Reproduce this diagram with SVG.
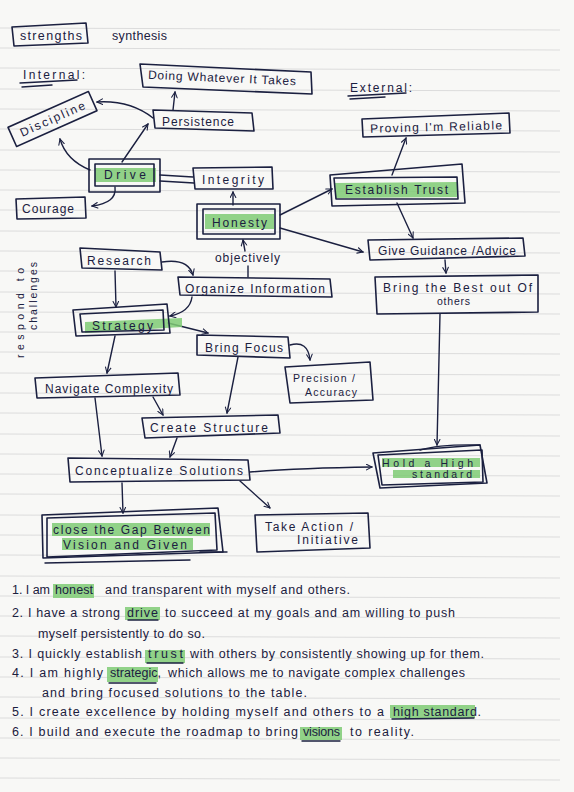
<svg xmlns="http://www.w3.org/2000/svg" width="574" height="792" viewBox="0 0 574 792">
<defs>
<style>
.bg{fill:#f8f8f6}
.rule{stroke:#dcdcdc;stroke-width:1}
.box{fill:none;stroke:#1b2040;stroke-width:1.6;stroke-linejoin:round}
.ln{fill:none;stroke:#1b2040;stroke-width:1.4;stroke-linecap:round}
.arr{fill:none;stroke:#1b2040;stroke-width:1.4;stroke-linecap:round;marker-end:url(#ah)}
.hl{fill:#7fcb74;opacity:0.85}
text{font-family:"Liberation Sans","DejaVu Sans",sans-serif;fill:#1b2040}
.t{font-size:12px}
.s{font-size:10.5px}
.b{font-size:12.5px}
</style>
<marker id="ah" viewBox="0 0 10 10" refX="9" refY="5" markerWidth="7" markerHeight="7" orient="auto" markerUnits="userSpaceOnUse">
<path d="M1,1 L9,5 L1,9" fill="none" stroke="#1b2040" stroke-width="1.5" stroke-linecap="round"/>
</marker>
</defs>
<rect class="bg" x="0" y="0" width="574" height="792"/>
<g id="rules">
<line class="rule" x1="0" y1="28" x2="560" y2="30"/><line class="rule" x1="0" y1="48" x2="560" y2="50"/><line class="rule" x1="0" y1="68" x2="560" y2="70"/><line class="rule" x1="0" y1="89" x2="560" y2="91"/><line class="rule" x1="0" y1="109" x2="560" y2="111"/><line class="rule" x1="0" y1="129" x2="560" y2="131"/><line class="rule" x1="0" y1="150" x2="560" y2="152"/><line class="rule" x1="0" y1="170" x2="560" y2="172"/><line class="rule" x1="0" y1="190" x2="560" y2="192"/><line class="rule" x1="0" y1="210" x2="560" y2="212"/><line class="rule" x1="0" y1="231" x2="560" y2="233"/><line class="rule" x1="0" y1="251" x2="560" y2="253"/><line class="rule" x1="0" y1="271" x2="560" y2="273"/><line class="rule" x1="0" y1="292" x2="560" y2="294"/><line class="rule" x1="0" y1="312" x2="560" y2="314"/><line class="rule" x1="0" y1="332" x2="560" y2="334"/><line class="rule" x1="0" y1="352" x2="560" y2="354"/><line class="rule" x1="0" y1="373" x2="560" y2="375"/><line class="rule" x1="0" y1="393" x2="560" y2="395"/><line class="rule" x1="0" y1="413" x2="560" y2="415"/><line class="rule" x1="0" y1="434" x2="560" y2="436"/><line class="rule" x1="0" y1="454" x2="560" y2="456"/><line class="rule" x1="0" y1="474" x2="560" y2="476"/><line class="rule" x1="0" y1="494" x2="560" y2="496"/><line class="rule" x1="0" y1="515" x2="560" y2="517"/><line class="rule" x1="0" y1="535" x2="560" y2="537"/><line class="rule" x1="0" y1="555" x2="560" y2="557"/><line class="rule" x1="0" y1="576" x2="560" y2="578"/><line class="rule" x1="0" y1="596" x2="560" y2="598"/><line class="rule" x1="0" y1="616" x2="560" y2="618"/><line class="rule" x1="0" y1="636" x2="560" y2="638"/><line class="rule" x1="0" y1="657" x2="560" y2="659"/><line class="rule" x1="0" y1="677" x2="560" y2="679"/><line class="rule" x1="0" y1="697" x2="560" y2="699"/><line class="rule" x1="0" y1="718" x2="560" y2="720"/><line class="rule" x1="0" y1="738" x2="560" y2="740"/><line class="rule" x1="0" y1="758" x2="560" y2="760"/><line class="rule" x1="0" y1="778" x2="560" y2="780"/>
</g>
<g id="headers">
<polygon class="box" points="12,27 86,23 88,43 14,46"/>
<text class="b" x="20" y="40" textLength="62" lengthAdjust="spacing">strengths</text>
<text class="b" x="112" y="40" textLength="55" lengthAdjust="spacing">synthesis</text>
<text class="t" x="23" y="79" textLength="62" lengthAdjust="spacing">Internal:</text>
<path class="ln" d="M20,83 L77,80 M22,87 L52,85"/>
<text class="t" x="350" y="92" textLength="62" lengthAdjust="spacing">External:</text>
<path class="ln" d="M348,96 L406,93 M350,99 L385,97"/>
<g transform="rotate(-90 24 358)"><text class="s" x="24" y="358" textLength="90" lengthAdjust="spacing">respond to</text></g>
<g transform="rotate(-90 37 330)"><text class="s" x="37" y="330" textLength="68" lengthAdjust="spacing">challenges</text></g>
</g>
<g id="connectors">
<path class="arr" d="M173,110 L175,92"/>
<path class="arr" d="M153,118 Q130,100 97,102"/>
<path class="arr" d="M122,162 L148,124"/>
<path class="arr" d="M90,170 Q66,160 60,139"/>
<path class="arr" d="M115,187 Q117,203 92,206"/>
<path class="ln" d="M160,175 L193,177 M160,181 L194,183"/>
<path class="arr" d="M233,205 L233,192"/>
<path class="arr" d="M245,251 L243,240"/>
<path class="ln" d="M248,266 L248,277"/>
<path class="arr" d="M280,215 L332,189"/>
<path class="arr" d="M280,228 L363,252"/>
<path class="arr" d="M392,175 L406,138"/>
<path class="arr" d="M397,203 L413,238"/>
<path class="arr" d="M445,260 L446,273"/>
<path class="arr" d="M440,314 L437,445"/>
<path class="arr" d="M162,262 Q188,258 193,275"/>
<path class="arr" d="M115,271 L116,307"/>
<path class="arr" d="M192,297 Q190,312 170,316"/>
<path class="arr" d="M168,323 L208,333"/>
<path class="arr" d="M290,345 Q308,340 310,360"/>
<path class="arr" d="M115,336 L107,373"/>
<path class="arr" d="M238,357 L227,413"/>
<path class="arr" d="M153,397 L163,415"/>
<path class="arr" d="M95,398 L102,456"/>
<path class="arr" d="M177,438 L170,457"/>
<path class="arr" d="M250,472 Q300,468 372,467"/>
<path class="arr" d="M122,483 L123,513"/>
<path class="arr" d="M240,481 L270,508"/>
</g>
<g id="n-doing">
<polygon class="box" points="140,64 311,72 312,94 143,87"/>
<text class="t" x="148" y="82" textLength="148" lengthAdjust="spacing" transform="rotate(2.5 222 78)">Doing Whatever It Takes</text>
</g>
<g id="n-discipline" transform="rotate(-24 52.5 119)">
<rect class="box" x="8.5" y="108.5" width="88" height="21"/>
<text class="t" x="52.5" y="123" text-anchor="middle" textLength="70" lengthAdjust="spacing">Discipline</text>
</g>
<g id="n-persistence">
<polygon class="box" points="153,110 252,113 254,131 155,128"/>
<text class="t" x="162" y="126" textLength="72" lengthAdjust="spacing">Persistence</text>
</g>
<g id="n-drive">
<rect class="box" x="89" y="159" width="71" height="33"/>
<rect class="hl" x="95" y="168" width="61" height="14"/>
<rect class="box" x="95" y="164" width="59" height="22"/>
<text class="t" x="104" y="179" textLength="42" lengthAdjust="spacing">Drive</text>
</g>
<g id="n-integrity">
<polygon class="box" points="193,168 272,167 273,189 195,189"/>
<text class="t" x="202" y="184" textLength="62" lengthAdjust="spacing">Integrity</text>
</g>
<g id="n-courage">
<polygon class="box" points="16,199 85,197 86,218 17,219"/>
<text class="t" x="22" y="213" textLength="52" lengthAdjust="spacing">Courage</text>
</g>
<g id="n-honesty">
<rect class="box" x="197" y="204" width="83" height="35"/>
<rect class="hl" x="205" y="214" width="69" height="15"/>
<rect class="box" x="203" y="209" width="72" height="25"/>
<text class="t" x="212" y="227" textLength="55" lengthAdjust="spacing">Honesty</text>
<text class="t" x="215" y="262" textLength="65" lengthAdjust="spacing">objectively</text>
</g>
<g id="n-proving">
<polygon class="box" points="362,119 509,113 510,133 363,137"/>
<text class="t" x="370" y="131" textLength="132" lengthAdjust="spacing" transform="rotate(-1.5 436 127)">Proving I'm Reliable</text>
</g>
<g id="n-trust">
<polygon class="hl" points="335,183 457,182 457,197 336,198"/>
<polygon class="box" points="330,175 462,164 465,203 332,206"/>
<polygon class="box" points="334,178 457,177 458,199 336,199"/>
<text class="t" x="345" y="194" textLength="103" lengthAdjust="spacing">Establish Trust</text>
</g>
<g id="n-guidance">
<polygon class="box" points="368,240 523,238 525,256 370,260"/>
<text class="t" x="378" y="255" textLength="138" lengthAdjust="spacing">Give Guidance /Advice</text>
</g>
<g id="n-best">
<polygon class="box" points="375,277 538,275 538,312 377,314"/>
<text class="t" x="383" y="292" textLength="149" lengthAdjust="spacing">Bring the Best out Of</text>
<text class="s" x="437" y="305" textLength="33" lengthAdjust="spacing">others</text>
</g>
<g id="n-research">
<polygon class="box" points="80,248 160,252 162,270 82,268"/>
<text class="t" x="87" y="265" textLength="64" lengthAdjust="spacing">Research</text>
</g>
<g id="n-organize">
<polygon class="box" points="178,277 330,279 332,297 180,295"/>
<text class="t" x="185" y="293" textLength="140" lengthAdjust="spacing">Organize Information</text>
</g>
<g id="n-strategy">
<polygon class="hl" points="85,322 182,318 182,327 85,333"/>
<polygon class="box" points="73,310 167,304 170,333 76,336"/>
<polygon class="box" points="80,314 163,310 164,330 82,332"/>
<text class="t" x="92" y="330" textLength="61" lengthAdjust="spacing">Strategy</text>
</g>
<g id="n-focus">
<polygon class="box" points="197,335 288,337 290,358 197,355"/>
<text class="t" x="205" y="352" textLength="78" lengthAdjust="spacing">Bring Focus</text>
</g>
<g id="n-precision">
<polygon class="box" points="285,367 370,362 373,400 290,403"/>
<text class="s" x="293" y="382" textLength="62" lengthAdjust="spacing">Precision /</text>
<text class="s" x="305" y="396" textLength="52" lengthAdjust="spacing">Accuracy</text>
</g>
<g id="n-navigate">
<polygon class="box" points="35,378 178,373 180,395 37,398"/>
<text class="t" x="45" y="393" textLength="128" lengthAdjust="spacing">Navigate Complexity</text>
</g>
<g id="n-structure">
<polygon class="box" points="142,418 278,415 280,433 145,438"/>
<text class="t" x="150" y="432" textLength="118" lengthAdjust="spacing">Create Structure</text>
</g>
<g id="n-conceptualize">
<polygon class="box" points="68,458 248,460 250,480 70,482"/>
<text class="t" x="75" y="475" textLength="168" lengthAdjust="spacing">Conceptualize Solutions</text>
</g>
<g id="n-hold">
<rect class="hl" x="382" y="458" width="98" height="9"/>
<rect class="hl" x="393" y="470" width="87" height="8"/>
<polygon class="box" points="373,453 480,445 487,483 380,488"/>
<polygon class="box" points="378,455 482,450 483,482 382,485"/>
<path class="ln" d="M420,450 Q440,444 480,445"/>
<text class="s" x="382" y="467" textLength="91" lengthAdjust="spacing">Hold a High</text>
<text class="s" x="412" y="478" textLength="60" lengthAdjust="spacing">standard</text>
</g>
<g id="n-close">
<rect class="hl" x="52" y="523" width="158" height="13"/>
<rect class="hl" x="62" y="538" width="131" height="12"/>
<polygon class="box" points="42,515 218,508 223,552 43,558"/>
<polygon class="box" points="47,518 215,513 217,550 47,557"/>
<path class="ln" d="M45,563 L190,560 M200,552 L227,552"/>
<text class="t" x="53" y="534" textLength="157" lengthAdjust="spacing">close the Gap Between</text>
<text class="t" x="63" y="549" textLength="124" lengthAdjust="spacing">Vision and Given</text>
</g>
<g id="n-action">
<polygon class="box" points="255,515 368,513 370,548 257,552"/>
<text class="t" x="265" y="531" textLength="88" lengthAdjust="spacing">Take Action /</text>
<text class="t" x="297" y="544" textLength="61" lengthAdjust="spacing">Initiative</text>
</g>
<g id="summary">
<rect class="hl" x="53" y="584" width="41" height="14"/>
<rect class="hl" x="125" y="607" width="35" height="13"/>
<rect class="hl" x="145" y="650" width="40" height="13"/>
<rect class="hl" x="107" y="667" width="51" height="15"/>
<rect class="hl" x="390" y="705" width="85" height="13"/>
<rect class="hl" x="300" y="727" width="42" height="13"/>
<path class="ln" d="M128,620 L158,620 M147,663 L183,663 M109,683 L156,683 M392,719 L474,718 M302,741 L340,741"/>
<text class="b" x="12" y="594" textLength="38" lengthAdjust="spacing">1. I am</text>
<text class="b" x="55" y="594" textLength="38" lengthAdjust="spacing">honest</text>
<text class="b" x="105" y="594" textLength="245" lengthAdjust="spacing">and transparent with myself and others.</text>
<text class="b" x="12" y="617" textLength="108" lengthAdjust="spacing">2. I have a strong</text>
<text class="b" x="127" y="617" textLength="31" lengthAdjust="spacing">drive</text>
<text class="b" x="165" y="617" textLength="290" lengthAdjust="spacing">to succeed at my goals and am willing to push</text>
<text class="b" x="38" y="638" textLength="167" lengthAdjust="spacing">myself persistently to do so.</text>
<text class="b" x="12" y="658" textLength="130" lengthAdjust="spacing">3. I quickly establish</text>
<text class="b" x="148" y="658" textLength="35" lengthAdjust="spacing">trust</text>
<text class="b" x="190" y="658" textLength="294" lengthAdjust="spacing">with others by consistently showing up for them.</text>
<text class="b" x="12" y="677" textLength="91" lengthAdjust="spacing">4. I am highly</text>
<text class="b" x="110" y="677" textLength="51" lengthAdjust="spacing">strategic,</text>
<text class="b" x="168" y="677" textLength="297" lengthAdjust="spacing">which allows me to navigate complex challenges</text>
<text class="b" x="42" y="697" textLength="265" lengthAdjust="spacing">and bring focused solutions to the table.</text>
<text class="b" x="12" y="716" textLength="372" lengthAdjust="spacing">5. I create excellence by holding myself and others to a</text>
<text class="b" x="393" y="716" textLength="88" lengthAdjust="spacing">high standard.</text>
<text class="b" x="12" y="736" textLength="286" lengthAdjust="spacing">6. I build and execute the roadmap to bring</text>
<text class="b" x="303" y="736" textLength="37" lengthAdjust="spacing">visions</text>
<text class="b" x="350" y="736" textLength="64" lengthAdjust="spacing">to reality.</text>
</g>
</svg>
